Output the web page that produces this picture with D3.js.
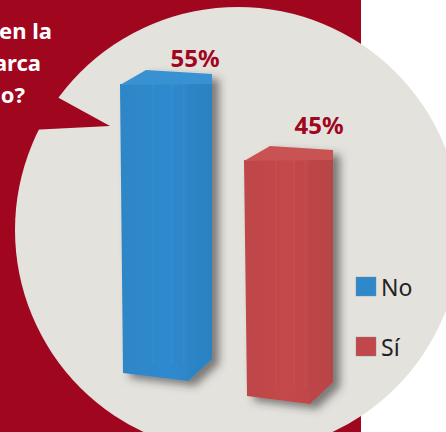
<!DOCTYPE html>
<html><head><meta charset="utf-8">
<script src="https://cdn.jsdelivr.net/npm/d3@7"></script>
<style>html,body{margin:0;padding:0;background:#fff;overflow:hidden}</style>
</head><body>
<svg id="c" width="446" height="432"></svg>
<script>
const categories = ["No", "Sí"];
const values = [55, 45];
const labels = ["55%", "45%"];
const questionLines = ["en la", "arca", "o?"];

const W = 446, H = 432;
const svg = d3.select("#c");
const red = "#a1061f";

const defs = svg.append("defs");
const f = defs.append("filter").attr("id","sh").attr("x","-20%").attr("y","-20%").attr("width","160%").attr("height","140%");
f.append("feDropShadow").attr("dx",7).attr("dy",5).attr("stdDeviation",4).attr("flood-color","#333").attr("flood-opacity",0.6);

const colors = {No:["#2e88ca","#3892d2","#2a80c0"], "Sí":["#c1474a","#c95253","#b74244"]};
categories.forEach((c, i) => {
  const g = defs.append("linearGradient").attr("id","g"+i).attr("x1",0).attr("x2",1);
  g.append("stop").attr("offset",0).attr("stop-color",d3.color(colors[c][0]).darker(0.05));
  g.append("stop").attr("offset",0.5).attr("stop-color",d3.color(colors[c][0]).brighter(0.05));
  g.append("stop").attr("offset",1).attr("stop-color",d3.color(colors[c][0]).darker(0.1));
});

// background
svg.append("rect").attr("width",361).attr("height",H).attr("fill",red);
svg.append("circle").attr("cx",238).attr("cy",230).attr("r",223).attr("fill","#e4e2dd");
// speech bubble tail
svg.append("path").attr("d","M48,92 L110,126 L30,130 Z").attr("fill",red);

// question text
const qx = [52, 41, 25], qy = [39, 71, 103];
svg.selectAll("text.q").data(questionLines).join("text")
  .attr("class","q").attr("x",(d,i)=>qx[i]).attr("y",(d,i)=>qy[i])
  .attr("text-anchor","end").attr("fill","#fff")
  .attr("font-family","Noto Sans").attr("font-weight",700).attr("font-size",22)
  .text(d=>d);

// scales
const x = d3.scaleOrdinal().domain(categories).range([120, 244]);
const bw = d3.scaleOrdinal().domain(categories).range([92, 89]);
const base = d3.scaleOrdinal().domain(categories).range([376, 399]);
const h = d3.scaleLinear().domain([0, 55]).range([0, 292]);

const bars = svg.selectAll("g.bar").data(categories).join("g").attr("class","bar").attr("filter","url(#sh)");
bars.each(function(c, i){
  const g = d3.select(this);
  const x0 = x(c), w = bw(c), yb = base(c), yt = yb - h(values[i]);
  const fw = w * 0.74;
  g.append("path").attr("d",
    `M${x0},${yt} L${x0+w},${yt} L${x0+w},${yb-17} L${x0+fw},${yb+5} L${x0+3},${yb-3} Z`)
    .attr("fill",`url(#g${i})`);
  g.append("path").attr("d",`M${x0+fw},${yt} L${x0+w},${yt} L${x0+w},${yb-17} L${x0+fw},${yb+5} Z`)
    .attr("fill",colors[c][2]).attr("opacity",0.3);
  g.append("path").attr("d",
    `M${x0},${yt+1} L${x0+26},${yt-14} L${x0+w},${yt-10} L${x0+w},${yt} Z`)
    .attr("fill",colors[c][1]);
  [0.35,0.55,0.68].forEach(p=>g.append("rect").attr("x",x0+w*p).attr("y",yt).attr("width",2).attr("height",h(values[i])-12)
    .attr("fill","#fff").attr("opacity",0.03));
});

// value labels
const lx = d3.scaleOrdinal().domain(categories).range([195, 319]);
const ly = d3.scaleOrdinal().domain(categories).range([67, 134]);
svg.selectAll("text.v").data(categories).join("text").attr("class","v")
  .attr("x",c=>lx(c)).attr("y",c=>ly(c)).attr("text-anchor","middle")
  .attr("fill","#a1061f").attr("font-family","Noto Sans").attr("font-weight",700).attr("font-size",24)
  .text((c,i)=>labels[i]);

// legend
const legY = d3.scaleOrdinal().domain(categories).range([277, 337]);
const lg = svg.selectAll("g.leg").data(categories).join("g").attr("class","leg")
  .attr("transform",c=>`translate(356,${legY(c)})`);
lg.append("rect").attr("width",20).attr("height",19).attr("fill",c=>colors[c][0]).attr("stroke","#888").attr("stroke-width",0.4);
lg.append("text").attr("x",25).attr("y",19).attr("fill","#222")
  .attr("font-family","Noto Sans").attr("font-size",23).text(c=>c);
</script>
</body></html>
